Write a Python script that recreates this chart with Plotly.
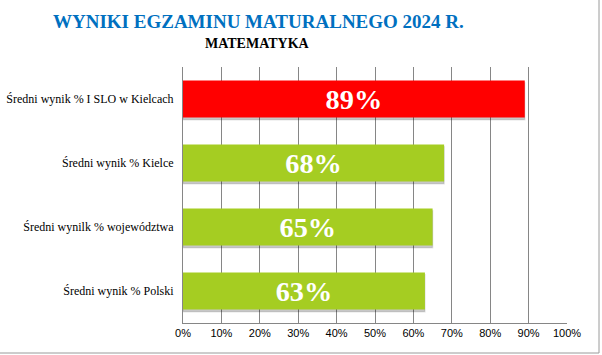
import plotly.graph_objects as go

categories = [
    "Średni wynik % I SLO w Kielcach",
    "Średni wynik % Kielce",
    "Średni wynilk % województwa",
    "Średni wynik % Polski",
]
values = [89, 68, 65, 63]
value_labels = ["89%", "68%", "65%", "63%"]
bar_colors = ["#FF0000", "#A5CD22", "#A5CD22", "#A5CD22"]
x_ticks = [0, 10, 20, 30, 40, 50, 60, 70, 80, 90, 100]
x_tick_labels = [f"{t}%" for t in x_ticks]

BAR_W = 0.58

fig = go.Figure()
# soft drop shadow under each bar
fig.add_trace(go.Bar(
    y=categories,
    x=values,
    orientation="h",
    width=BAR_W,
    offset=-BAR_W / 2 + 0.035,
    marker=dict(color="rgba(0,0,0,0.22)", line=dict(color="rgba(0,0,0,0.10)", width=1.5)),
    hoverinfo="skip",
))
fig.add_trace(go.Bar(
    y=categories,
    x=values,
    orientation="h",
    width=BAR_W,
    offset=-BAR_W / 2,
    marker=dict(color=bar_colors, line=dict(width=0)),
    text=value_labels,
    textposition="inside",
    insidetextanchor="middle",
    textangle=0,
    textfont=dict(family="Liberation Serif", size=30, color="white", weight="bold"),
    cliponaxis=False,
    hoverinfo="skip",
))

fig.update_layout(
    width=602,
    height=355,
    margin=dict(l=183, r=35, t=67, b=32, autoexpand=False),
    paper_bgcolor="white",
    plot_bgcolor="white",
    barmode="overlay",
    showlegend=False,
    xaxis=dict(
        range=[0, 100],
        tickvals=x_ticks,
        ticktext=x_tick_labels,
        showgrid=True,
        gridcolor="#868686",
        gridwidth=1,
        showline=True,
        linecolor="#868686",
        linewidth=1,
        mirror=False,
        zeroline=False,
        ticks="",
        automargin=False,
        tickfont=dict(family="Liberation Sans", size=11, color="#000000"),
        fixedrange=True,
    ),
    yaxis=dict(
        autorange="reversed",
        showgrid=False,
        showline=True,
        linecolor="#868686",
        linewidth=1,
        ticks="",
        automargin=False,
        ticklabelstandoff=6,
        tickfont=dict(family="Liberation Serif", size=12, color="#000000"),
        fixedrange=True,
    ),
    annotations=[
        dict(
            text="WYNIKI EGZAMINU MATURALNEGO 2024 R.",
            xref="paper", yref="paper",
            x=(258 - 183) / 384, y=1 + (67 - 21) / 256,
            xanchor="center", yanchor="middle",
            showarrow=False,
            font=dict(family="Liberation Serif", size=19, color="#0070C0", weight="bold"),
        ),
        dict(
            text="MATEMATYKA",
            xref="paper", yref="paper",
            x=(257 - 183) / 384, y=1 + (67 - 43) / 256,
            xanchor="center", yanchor="middle",
            showarrow=False,
            font=dict(family="Liberation Serif", size=14, color="#000000", weight="bold"),
        ),
    ],
    shapes=[
        dict(type="line", xref="paper", yref="paper",
             x0=(599 - 183) / 384, x1=(599 - 183) / 384,
             y0=-(353 - 323) / 256, y1=1 + 67 / 256,
             line=dict(color="#9a9a9a", width=1)),
        dict(type="line", xref="paper", yref="paper",
             x0=-183 / 384, x1=(599 - 183) / 384,
             y0=-(353 - 323) / 256, y1=-(353 - 323) / 256,
             line=dict(color="#9a9a9a", width=1)),
    ],
)

fig.write_html(
    "out.html",
    config={"displayModeBar": False},
    post_script="document.body.style.margin='0';document.body.style.overflow='hidden';",
)
